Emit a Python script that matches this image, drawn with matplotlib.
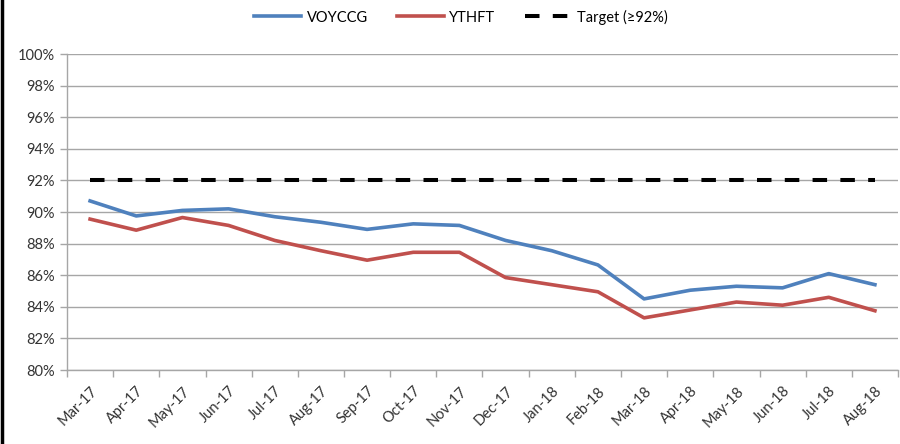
import matplotlib
matplotlib.use("Agg")
import matplotlib.pyplot as plt
from matplotlib.lines import Line2D
from matplotlib.ticker import FixedLocator, FuncFormatter

months = ["Mar-17", "Apr-17", "May-17", "Jun-17", "Jul-17", "Aug-17", "Sep-17", "Oct-17",
          "Nov-17", "Dec-17", "Jan-18", "Feb-18", "Mar-18", "Apr-18", "May-18", "Jun-18",
          "Jul-18", "Aug-18"]
voyccg = [90.7, 89.75, 90.1, 90.2, 89.7, 89.35, 88.9, 89.25, 89.15, 88.2, 87.55, 86.65,
          84.5, 85.05, 85.3, 85.2, 86.1, 85.4]
ythft = [89.55, 88.85, 89.65, 89.15, 88.2, 87.55, 86.95, 87.45, 87.45, 85.85, 85.4, 84.95,
         83.3, 83.8, 84.3, 84.1, 84.6, 83.75]
target = [92.0] * len(months)
yticks = list(range(80, 101, 2))

plt.rcParams['font.family'] = ['Lato', 'DejaVu Sans']

fig = plt.figure(figsize=(9, 4.44), dpi=100)
ax = fig.add_axes([67/900, 1-370/444, 831/900, (370-54)/444])

x = list(range(len(months)))
grid_c = "#A6A6A6"
for v in yticks:
    ax.axhline(v, color=grid_c, lw=1.0, zorder=1)

l1, = ax.plot(x, voyccg, color="#4F81BD", lw=2.6, label="VOYCCG", zorder=3)
l2, = ax.plot(x, ythft, color="#C0504D", lw=2.6, label="YTHFT", zorder=3)
l3, = ax.plot(x, target, color="black", lw=2.9, dashes=(3.6, 3.3), label="Target (≥92%)", zorder=4)

ax.set_xlim(-0.5, len(months) - 0.5)
ax.set_ylim(80, 100)
ax.set_yticks(yticks)
ax.yaxis.set_major_formatter(FuncFormatter(lambda v, p: f"{v:.0f}%"))

ax.xaxis.set_major_locator(FixedLocator([i - 0.5 for i in range(len(months) + 1)]))
ax.xaxis.set_major_formatter(FuncFormatter(lambda v, p: ""))
ax.xaxis.set_minor_locator(FixedLocator(x))
ax.set_xticklabels(months, minor=True, rotation=45, ha="right", rotation_mode="anchor")
ax.tick_params(axis="x", which="minor", length=0, pad=10, labelsize=10.5, colors="#333333")
ax.tick_params(axis="x", which="major", length=5, color=grid_c, width=1)
ax.tick_params(axis="y", length=5, color=grid_c, width=1, labelsize=10.5, labelcolor="#333333", pad=4)
for lab in ax.get_xticklabels(minor=True):
    lab.set_color("#333333")

for s in ["top", "right"]:
    ax.spines[s].set_visible(False)
for s in ["left", "bottom"]:
    ax.spines[s].set_color(grid_c)
    ax.spines[s].set_linewidth(1)

fig.legend(handles=[l1, l2, l3], loc="center", bbox_to_anchor=(461/900, 1-17/444),
           ncol=3, frameon=False, fontsize=10.5, handlelength=3.2, columnspacing=2.0,
           handletextpad=0.4)

fig.add_artist(Line2D([0.002, 0.002], [0, 1], color="black", lw=2.5, transform=fig.transFigure))

fig.savefig("out.png", dpi=100)
